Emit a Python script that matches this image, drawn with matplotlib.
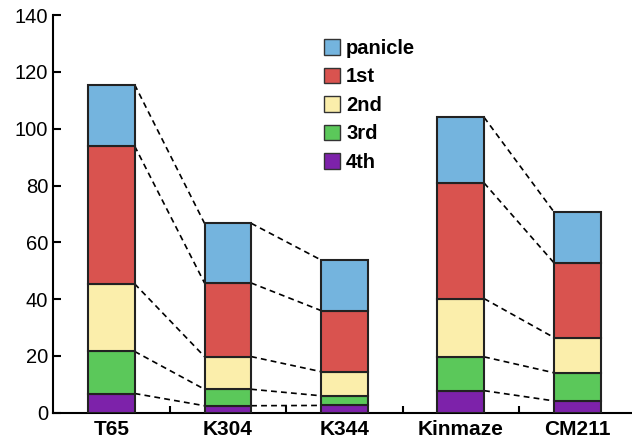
import numpy as np
import matplotlib
matplotlib.use("Agg")
import matplotlib.pyplot as plt
from matplotlib.patches import Patch

plt.rcParams["font.family"] = ["Liberation Sans", "DejaVu Sans"]

cultivars = ["T65", "K304", "K344", "Kinmaze", "CM211"]
parts = ["4th", "3rd", "2nd", "1st", "panicle"]
# segment values, bottom to top
part_4th = [6.8, 2.5, 2.6, 7.8, 4.2]
part_3rd = [14.8, 5.8, 3.4, 11.9, 9.9]
part_2nd = [23.8, 11.5, 8.5, 20.5, 12.4]
part_1st = [48.5, 25.9, 21.5, 40.7, 26.3]
part_panicle = [21.6, 21.0, 17.8, 23.1, 17.9]
colors = ["#7d22aa", "#5bc85a", "#fbeeab", "#d9534f", "#74b4de"]
linked = [(0, 1), (1, 2), (3, 4)]

segments = [part_4th, part_3rd, part_2nd, part_1st, part_panicle]
x = np.arange(len(cultivars))
w = 0.4

fig = plt.figure(figsize=(6.32, 4.42), dpi=100)
ax = fig.add_axes([0.084, 0.066, 0.916, 0.9])

bottom = np.zeros(len(cultivars))
tops = []
for vals, col in zip(segments, colors):
    vals = np.array(vals)
    ax.bar(x, vals, w, bottom=bottom, color=col, edgecolor="#222222",
           linewidth=1.5, zorder=3)
    bottom = bottom + vals
    tops.append(bottom.copy())

for level in tops:
    for a, b in linked:
        ax.plot([x[a] + w / 2, x[b] - w / 2], [level[a], level[b]],
                ls=(0, (3.5, 2.5)), color="black", lw=1.2, zorder=2)

ax.set_xlim(-0.5, 4.47)
ax.set_ylim(0, 140)
ax.set_yticks(np.arange(0, 141, 20))
ax.set_xticks(x)
ax.set_xticklabels(cultivars, fontweight="bold", fontsize=15)
ax.set_xticks(x[:-1] + 0.5, minor=True)
ax.tick_params(axis="x", which="major", length=0, pad=5)
ax.tick_params(axis="x", which="minor", direction="in", length=5, width=1.5)
ax.tick_params(axis="y", direction="in", length=6, width=1.5, labelsize=14.5)
for s in ["top", "right"]:
    ax.spines[s].set_visible(False)
for s in ["left", "bottom"]:
    ax.spines[s].set_linewidth(1.5)

handles = [Patch(facecolor=c, edgecolor="#333333", label=p)
           for c, p in zip(colors, parts)][::-1]
leg = ax.legend(handles=handles, loc="upper left", bbox_to_anchor=(0.454, 0.96),
                frameon=False, prop={"weight": "bold", "size": 14.5},
                handlelength=0.8, handleheight=0.8, handletextpad=0.3,
                labelspacing=0.47, borderaxespad=0)

fig.savefig("out.png", dpi=100)
